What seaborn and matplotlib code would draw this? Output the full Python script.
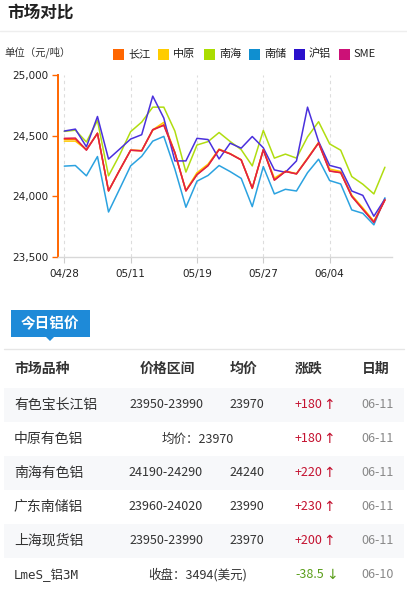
import matplotlib
matplotlib.use('Agg')
import matplotlib.pyplot as plt
from matplotlib.patches import Rectangle, Polygon
import pandas as pd
import seaborn as sns

# --- dati del grafico (prezzi in 元/吨) ---
dates = ['04/28', '04/29', '04/30', '05/06', '05/07', '05/08', '05/11', '05/12', '05/13', '05/14',
         '05/15', '05/18', '05/19', '05/20', '05/21', '05/22', '05/25', '05/26', '05/27', '05/28',
         '05/29', '06/01', '06/02', '06/03', '06/04', '06/05', '06/08', '06/09', '06/10', '06/11']
tick_dates = ['04/28', '05/11', '05/19', '05/27', '06/04']

changjiang = [24470, 24470, 24385, 24520, 24045, 24215, 24380, 24375, 24545, 24590,
              24360, 24045, 24180, 24255, 24385, 24350, 24300, 24065, 24385, 24135,
              24205, 24185, 24310, 24440, 24210, 24195, 24000, 23895, 23790, 23970]
zhongyuan = [24455, 24455, 24385, 24520, 24045, 24215, 24380, 24378, 24548, 24610,
             24362, 24048, 24195, 24265, 24390, 24352, 24302, 24068, 24385, 24150,
             24208, 24188, 24315, 24445, 24225, 24205, 24010, 23905, 23795, 23970]
nanhai = [24535, 24545, 24448, 24625, 24169, 24340, 24533, 24612, 24735, 24735,
          24538, 24200, 24423, 24451, 24526, 24452, 24385, 24251, 24543, 24315,
          24348, 24315, 24490, 24615, 24432, 24380, 24163, 24100, 24020, 24240]
nanchu = [24249, 24254, 24169, 24328, 23871, 24060, 24251, 24330, 24455, 24494,
          24225, 23910, 24125, 24172, 24254, 24204, 24148, 23915, 24245, 24020,
          24058, 24044, 24195, 24306, 24130, 24102, 23888, 23860, 23765, 23988]
hulv = [24538, 24554, 24408, 24658, 24307, 24389, 24472, 24508, 24826, 24645,
        24292, 24292, 24478, 24468, 24308, 24438, 24397, 24493, 24400, 24218,
        24198, 24292, 24735, 24452, 24255, 24231, 24044, 24008, 23836, 23978]
sme = [24478, 24480, 24380, 24520, 24045, 24215, 24380, 24375, 24550, 24585,
       24360, 24045, 24178, 24252, 24385, 24350, 24300, 24068, 24383, 24133,
       24205, 24185, 24310, 24440, 24208, 24195, 24000, 23892, 23785, 23970]

series_names = ['长江', '中原', '南海', '南储', '沪铝', 'SME']
legend_colors = ['#ff6600', '#ffcc00', '#aadd00', '#0f8fd0', '#2a10cc', '#cc1177']
line_colors = ['#ff6a00', '#ffcc00', '#b0dd10', '#2ba2e0', '#4a30dd', '#e01e48']
draw_order = ['中原', '南储', '南海', '沪铝', '长江', 'SME']

# --- dati della tabella ---
row_names = ['有色宝长江铝', '中原有色铝', '南海有色铝', '广东南储铝', '上海现货铝', 'LmeS_铝3M']
row_ranges = ['23950-23990', '', '24190-24290', '23960-24020', '23950-23990', '']
row_avgs = ['23970', '', '24240', '23990', '23970', '']
row_merged = ['', '均价：23970', '', '', '', '收盘：3494(美元)']
row_changes = ['+180', '+180', '+220', '+230', '+200', '-38.5']
row_dates = ['06-11', '06-11', '06-11', '06-11', '06-11', '06-10']
headers = ['市场品种', '价格区间', '均价', '涨跌', '日期']

W, H = 407, 594


def fx(x):
    return x / W


def fy(y):
    return 1 - y / H


sns.set_theme(style='white')
plt.rcParams['font.family'] = ['Noto Sans CJK SC', 'DejaVu Sans']

fig = plt.figure(figsize=(W / 100, H / 100), dpi=100)
fig.patch.set_facecolor('white')

# titolo e intestazione
fig.text(fx(7), fy(13), '市场对比', fontsize=12, fontweight='bold', color='#222222', va='center', ha='left')
fig.add_artist(plt.Line2D([0, 1], [fy(31), fy(31)], color='#eeeeee', lw=1))
fig.text(fx(4), fy(52), '单位（元/吨）', fontsize=7.5, color='#333333', va='center', ha='left')

# legenda manuale
leg_x = [113, 158, 204, 249, 294, 339]
for x0, name, col in zip(leg_x, series_names, legend_colors):
    fig.add_artist(Rectangle((fx(x0), fy(60)), 11 / W, 11 / H, transform=fig.transFigure,
                             facecolor=col, edgecolor='none'))
    fig.text(fx(x0 + 15), fy(54), name, fontsize=8, color='#222222', va='center', ha='left')

# --- grafico a linee ---
long_df = pd.DataFrame({
    'idx': list(range(len(dates))) * 6,
    'price': changjiang + zhongyuan + nanhai + nanchu + hulv + sme,
    'series': [n for n in series_names for _ in dates],
})

ax = fig.add_axes([fx(58), fy(257), 334 / W, 182 / H])
sns.lineplot(data=long_df, x='idx', y='price', hue='series', hue_order=draw_order,
             palette=dict(zip(series_names, line_colors)), lw=1.1, legend=False, ax=ax)

ax.set_xlim(-0.57, 29.64)
ax.set_ylim(23500, 25000)
tick_pos = [dates.index(d) for d in tick_dates]
ax.set_xticks(tick_pos)
ax.set_xticklabels(tick_dates, family='DejaVu Sans', fontsize=7.5, color='#222222')
ax.set_yticks([23500, 24000, 24500, 25000])
ax.set_yticklabels(['23,500', '24,000', '24,500', '25,000'], family='DejaVu Sans', fontsize=7.5, color='#222222')
ax.set_xlabel('')
ax.set_ylabel('')
for p in tick_pos:
    ax.axvline(p, color='#dddddd', lw=0.8, ls=(0, (3, 3)), zorder=0)
for s in ['top', 'right']:
    ax.spines[s].set_visible(False)
ax.spines['left'].set_color('#ff6600')
ax.spines['left'].set_linewidth(1.4)
ax.spines['bottom'].set_color('#d8d8d8')
ax.spines['bottom'].set_linewidth(1)
ax.tick_params(axis='y', direction='out', length=4, width=1, color='#ff6600', pad=3, left=True)
ax.tick_params(axis='x', direction='out', length=4, width=0.8, color='#cccccc', pad=5, bottom=True)
ax.set_facecolor('white')

# --- tabella "今日铝价" ---
fig.add_artist(Rectangle((fx(11), fy(337)), 79 / W, 27 / H, transform=fig.transFigure,
                         facecolor='#1e8ad8', edgecolor='none'))
fig.add_artist(Polygon([(fx(46), fy(337)), (fx(54), fy(337)), (fx(50), fy(341))],
                       closed=True, transform=fig.transFigure, facecolor='#1e8ad8', edgecolor='none'))
fig.text(fx(50), fy(323.5), '今日铝价', fontsize=10.5, fontweight='bold', color='white', va='center', ha='center')
fig.add_artist(plt.Line2D([fx(4), fx(404)], [fy(349), fy(349)], color='#e6e6e6', lw=1))

header_x = [14, 167, 244, 309, 376]
header_ha = ['left', 'center', 'center', 'center', 'center']
for hx, ha, h in zip(header_x, header_ha, headers):
    fig.text(fx(hx), fy(369), h, fontsize=10, fontweight='bold', color='#333333', va='center', ha=ha)

row_y = [405, 439, 473, 507, 541, 575]
for i, yc in enumerate(row_y):
    if i % 2 == 0:
        fig.add_artist(Rectangle((fx(4), fy(yc + 17)), 400 / W, 34 / H, transform=fig.transFigure,
                                 facecolor='#f7f8fa', edgecolor='none', zorder=0))
    name_family = ['DejaVu Sans Mono', 'Noto Sans CJK SC'] if i == 5 else ['Noto Sans CJK SC', 'DejaVu Sans']
    fig.text(fx(14), fy(yc), row_names[i], fontsize=10 if i < 5 else 9, color='#333333',
             va='center', ha='left', family=name_family)
    if row_merged[i]:
        fig.text(fx(198), fy(yc), row_merged[i], fontsize=9, color='#333333', va='center', ha='center')
    else:
        fig.text(fx(166), fy(yc), row_ranges[i], fontsize=9, color='#333333', va='center', ha='center')
        fig.text(fx(247), fy(yc), row_avgs[i], fontsize=9, color='#333333', va='center', ha='center')
    up = row_changes[i].startswith('+')
    ccol = '#c41230' if up else '#5a9e1a'
    fig.text(fx(295), fy(yc), row_changes[i], fontsize=9, color=ccol, va='center', ha='left')
    fig.text(fx(329 if up else 332), fy(yc), '↑' if up else '↓', fontsize=10, color=ccol,
             va='center', ha='center', family=['DejaVu Sans'])
    fig.text(fx(378), fy(yc), row_dates[i], fontsize=9, color='#888888', va='center', ha='center')

fig.savefig('out.png', dpi=100, facecolor='white')
